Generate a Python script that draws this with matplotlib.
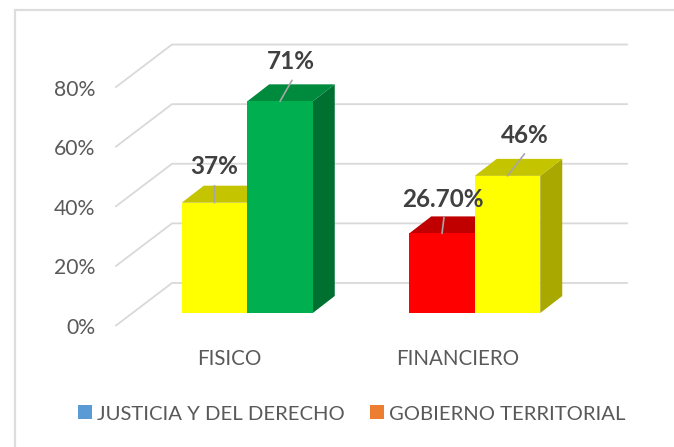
import matplotlib
matplotlib.use("Agg")
import matplotlib.pyplot as plt
from matplotlib.lines import Line2D
from matplotlib.patches import Polygon, Rectangle
from matplotlib.transforms import ScaledTranslation

categories = ["FISICO", "FINANCIERO"]
series_front = [37, 26.7]
series_back = [71, 46]
labels_front = ["37%", "26.70%"]
labels_back = ["71%", "46%"]
front_colors = ["#FFFF00", "#FF0000"]
front_top_colors = ["#C4C400", "#C00000"]
back_colors = ["#00B050", "#FFFF00"]
back_top_colors = ["#008A3E", "#C4C400"]
back_side_colors = ["#007030", "#A8A800"]
y_ticks = [0, 20, 40, 60, 80]
legend_names = ["JUSTICIA Y DEL DERECHO", "GOBIERNO TERRITORIAL"]
legend_colors = ["#5B9BD5", "#ED7D31"]

W, H = 674, 447
plt.rcParams["font.family"] = ["Lato", "DejaVu Sans"]
fig = plt.figure(figsize=(W / 100, H / 100), dpi=100, facecolor="white")
L, R, B, T = 116, 571, 325.5, 87
ax = fig.add_axes([L / W, 1 - B / H, (R - L) / W, (B - T) / H])
ax.set_xlim(-0.5, 1.5)
ax.set_ylim(0, 80)
ax.patch.set_visible(False)
for s in ax.spines.values():
    s.set_visible(False)
px_x = 2 / (R - L)
px_y = 80 / (B - T)


def off(dx, dy):
    return dx * px_x, -dy * px_y


wall = off(56, -42.5)
bar0 = off(17.5, -12.5)
bar1 = off(39.5, -29.5)
GRID = "#D9D9D9"
for v in y_ticks:
    ax.plot([-0.5, -0.5 + wall[0], 1.5 + wall[0]], [v, v + wall[1], v + wall[1]],
            color=GRID, lw=1.3, clip_on=False, zorder=1, solid_joinstyle="miter")

bw = 65.5 * px_x
b0 = bar0[1]
d = (bar1[0] - bar0[0], bar1[1] - bar0[1])


def draw_bar(x0, v, front, top, side, z):
    y0 = b0
    y1 = b0 + v
    ax.add_patch(Polygon([(x0 + bw, y0), (x0 + bw + d[0], y0 + d[1]), (x0 + bw + d[0], y1 + d[1]), (x0 + bw, y1)],
                         fc=side, ec="none", clip_on=False, zorder=z))
    ax.add_patch(Polygon([(x0, y1), (x0 + d[0], y1 + d[1]), (x0 + bw + d[0], y1 + d[1]), (x0 + bw, y1)],
                         fc=top, ec="none", clip_on=False, zorder=z))
    ax.bar(x0, v, width=bw, bottom=y0, align="edge", color=front, clip_on=False, zorder=z + 0.1)


for i in range(2):
    cx = i + bar0[0]
    draw_bar(cx - bw, series_front[i], front_colors[i], front_top_colors[i], front_colors[i], 2)
    draw_bar(cx, series_back[i], back_colors[i], back_top_colors[i], back_side_colors[i], 3)

ax.set_xticks([0, 1], categories)
ax.set_yticks(y_ticks, [f"{v}%" for v in y_ticks])
ax.tick_params(axis="both", length=0, labelcolor="#595959")
ax.tick_params(axis="y", labelsize=15.2, pad=15)
ax.tick_params(axis="x", labelsize=14.8, pad=17)
shift = ScaledTranslation(0, -0.5 / 100, fig.dpi_scale_trans)
for lab in ax.get_yticklabels():
    lab.set_transform(lab.get_transform() + shift)

label_spec = [
    (0, labels_front[0], series_front[0], -bw / 2, (0, 36), (0, 17)),
    (0, labels_back[0], series_back[0], bw / 2, (11, 40), (12, 21)),
    (1, labels_front[1], series_front[1], -bw / 2, (1, 34), (2, 16)),
    (1, labels_back[1], series_back[1], bw / 2, (17, 40), (17, 22)),
]
for i, txt, v, dx, tpos, lpos in label_spec:
    xy = (i + bar0[0] + dx, b0 + v)
    ax.annotate("", xy=xy, xytext=(lpos[0] * 0.72, lpos[1] * 0.72), textcoords="offset points",
                arrowprops=dict(arrowstyle="-", color="#A6A6A6", lw=1.2, shrinkA=0, shrinkB=0),
                zorder=6, annotation_clip=False)
    ax.annotate(txt, xy=xy, xytext=(tpos[0] * 0.72, tpos[1] * 0.72), textcoords="offset points",
                ha="center", va="center", fontsize=17.5, fontweight="bold", color="#404040",
                zorder=7, annotation_clip=False)

# legend
handles = [Rectangle((0, 0), 1, 1, fc=c, ec="none") for c in legend_colors]
fig.legend(handles, legend_names, loc="center", bbox_to_anchor=(351.5 / W, 1 - 414 / H), ncol=2,
           frameon=False, fontsize=14.6, labelcolor="#595959", handlelength=0.69, handleheight=0.69,
           handletextpad=0.25, columnspacing=1.25, borderpad=0, borderaxespad=0)

# chart frame: only the left and top edges are inside the picture
fig.add_artist(Line2D([14.5 / W, 14.5 / W, 1], [0, 1 - 9.5 / H, 1 - 9.5 / H], transform=fig.transFigure,
                      color="#DDDDDD", lw=1.6, solid_joinstyle="miter"))
fig.savefig("out.png", dpi=100)
